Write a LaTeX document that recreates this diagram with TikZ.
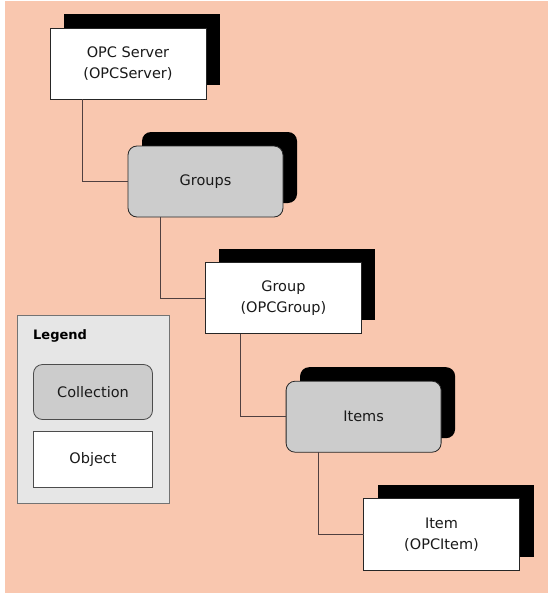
\documentclass[tikz,border=0pt]{standalone}
\usepackage{fontspec}
\setmainfont{DejaVu Sans}
\usetikzlibrary{shadows}
\definecolor{peach}{RGB}{249,199,175}
\definecolor{collgray}{RGB}{204,204,204}
\definecolor{leggray}{RGB}{230,230,230}
\definecolor{linecol}{RGB}{80,64,64}
\tikzset{
  base/.style={inner sep=0pt, outer sep=0pt, line width=0.8pt, draw=black!85, align=center,
    font=\fontsize{14.5}{21}\selectfont, text=black!90},
  objbox/.style={base, fill=white, minimum width=156pt, minimum height=71pt},
  collbox/.style={base, fill=collgray, rounded corners=9pt, minimum width=155pt, minimum height=71pt},
  shadowed/.style={drop shadow={shadow xshift=14pt, shadow yshift=14pt, fill=black, opacity=1}},
  conn/.style={line width=0.8pt, draw=linecol},
}
\begin{document}
\begin{tikzpicture}[x=1pt, y=-1pt]
  \useasboundingbox (0,0) rectangle (549,594);
  \fill[peach] (5,1) rectangle (548,593);

  % legend
  \node[base, draw=black!55, fill=leggray, minimum width=152pt, minimum height=188pt] (legend) at (93,409) {};
  \node[anchor=west, inner sep=0pt, font=\fontsize{13}{15}\selectfont\bfseries] (legendtitle) at (33,336) {Legend};
  \node[base, fill=collgray, rounded corners=9pt, draw=black!70, minimum width=119pt, minimum height=55pt] (coll) at (93,392) {Collection};
  \node[base, fill=white, draw=black!70, minimum width=119pt, minimum height=56pt] (obj) at (93,459) {Object};

  % hierarchy
  \node[objbox, shadowed] (srv) at (128,63.5) {OPC Server\\(OPCServer)};
  \node[collbox, shadowed] (groups) at (205.5,181.5) {Groups};
  \node[objbox, shadowed] (grp) at (283.4,298.3) {Group\\(OPCGroup)};
  \node[collbox, shadowed] (items) at (363.6,416.7) {Items};
  \node[objbox, shadowed, minimum height=72pt] (itm) at (441.5,534.7) {Item\\(OPCItem)};

  % connectors
  \draw[conn] ([xshift=32pt]srv.south west) |- (groups.west);
  \draw[conn] ([xshift=32pt]groups.south west) |- (grp.west);
  \draw[conn] ([xshift=35pt]grp.south west) |- (items.west);
  \draw[conn] ([xshift=32pt]items.south west) |- (itm.west);
\end{tikzpicture}
\end{document}
